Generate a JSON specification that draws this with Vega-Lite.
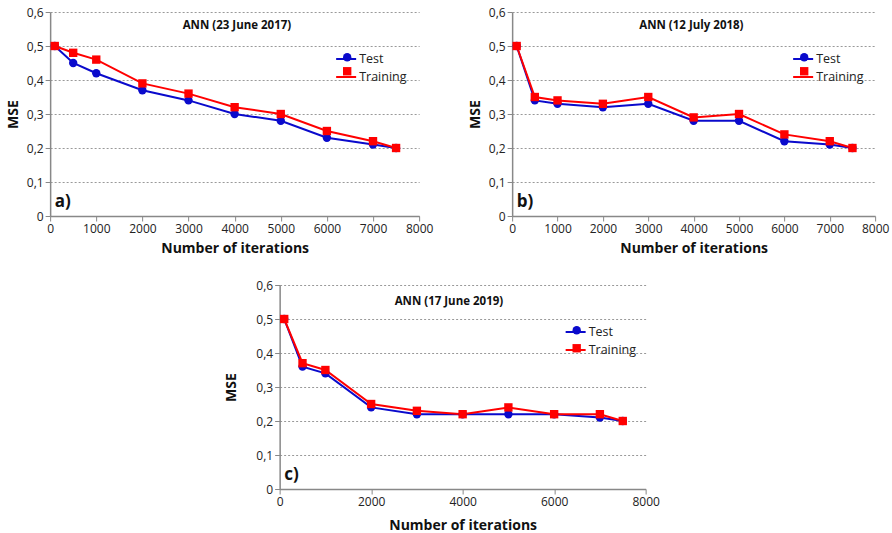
{
  "$schema": "https://vega.github.io/schema/vega-lite/v6.json",
  "padding": {"left": 6, "top": 6, "right": 2, "bottom": 2},
  "background": "white",
  "datasets": {
    "a": [
      {"iterations": 100, "mse": 0.50, "series": "Test", "curve": "Test"},
      {"iterations": 500, "mse": 0.45, "series": "Test", "curve": "Test"},
      {"iterations": 1000, "mse": 0.42, "series": "Test", "curve": "Test"},
      {"iterations": 2000, "mse": 0.37, "series": "Test", "curve": "Test"},
      {"iterations": 3000, "mse": 0.34, "series": "Test", "curve": "Test"},
      {"iterations": 4000, "mse": 0.30, "series": "Test", "curve": "Test"},
      {"iterations": 5000, "mse": 0.28, "series": "Test", "curve": "Test"},
      {"iterations": 6000, "mse": 0.23, "series": "Test", "curve": "Test"},
      {"iterations": 7000, "mse": 0.21, "series": "Test", "curve": "Test"},
      {"iterations": 7500, "mse": 0.20, "series": "Test", "curve": "Test"},
      {"iterations": 100, "mse": 0.50, "series": "Training", "curve": "Training"},
      {"iterations": 500, "mse": 0.48, "series": "Training", "curve": "Training"},
      {"iterations": 1000, "mse": 0.46, "series": "Training", "curve": "Training"},
      {"iterations": 2000, "mse": 0.39, "series": "Training", "curve": "Training"},
      {"iterations": 3000, "mse": 0.36, "series": "Training", "curve": "Training"},
      {"iterations": 4000, "mse": 0.32, "series": "Training", "curve": "Training"},
      {"iterations": 5000, "mse": 0.30, "series": "Training", "curve": "Training"},
      {"iterations": 6000, "mse": 0.25, "series": "Training", "curve": "Training"},
      {"iterations": 7000, "mse": 0.22, "series": "Training", "curve": "Training"},
      {"iterations": 7500, "mse": 0.20, "series": "Training", "curve": "Training"}
    ],
    "b": [
      {"iterations": 100, "mse": 0.50, "series": "Test", "curve": "Test"},
      {"iterations": 500, "mse": 0.34, "series": "Test", "curve": "Test"},
      {"iterations": 1000, "mse": 0.33, "series": "Test", "curve": "Test"},
      {"iterations": 2000, "mse": 0.32, "series": "Test", "curve": "Test"},
      {"iterations": 3000, "mse": 0.33, "series": "Test", "curve": "Test"},
      {"iterations": 4000, "mse": 0.28, "series": "Test", "curve": "Test"},
      {"iterations": 5000, "mse": 0.28, "series": "Test", "curve": "Test"},
      {"iterations": 6000, "mse": 0.22, "series": "Test", "curve": "Test"},
      {"iterations": 7000, "mse": 0.21, "series": "Test", "curve": "Test"},
      {"iterations": 7500, "mse": 0.20, "series": "Test", "curve": "Test"},
      {"iterations": 100, "mse": 0.50, "series": "Training", "curve": "Training"},
      {"iterations": 500, "mse": 0.35, "series": "Training", "curve": "Training"},
      {"iterations": 1000, "mse": 0.34, "series": "Training", "curve": "Training"},
      {"iterations": 2000, "mse": 0.33, "series": "Training", "curve": "Training"},
      {"iterations": 3000, "mse": 0.35, "series": "Training", "curve": "Training"},
      {"iterations": 4000, "mse": 0.29, "series": "Training", "curve": "Training"},
      {"iterations": 5000, "mse": 0.30, "series": "Training", "curve": "Training"},
      {"iterations": 6000, "mse": 0.24, "series": "Training", "curve": "Training"},
      {"iterations": 7000, "mse": 0.22, "series": "Training", "curve": "Training"},
      {"iterations": 7500, "mse": 0.20, "series": "Training", "curve": "Training"}
    ],
    "c": [
      {"iterations": 100, "mse": 0.50, "series": "Test", "curve": "Test"},
      {"iterations": 500, "mse": 0.36, "series": "Test", "curve": "Test"},
      {"iterations": 1000, "mse": 0.34, "series": "Test", "curve": "Test"},
      {"iterations": 2000, "mse": 0.24, "series": "Test", "curve": "Test"},
      {"iterations": 3000, "mse": 0.22, "series": "Test", "curve": "Test"},
      {"iterations": 4000, "mse": 0.22, "series": "Test", "curve": "Test"},
      {"iterations": 5000, "mse": 0.22, "series": "Test", "curve": "Test"},
      {"iterations": 6000, "mse": 0.22, "series": "Test", "curve": "Test"},
      {"iterations": 7000, "mse": 0.21, "series": "Test", "curve": "Test"},
      {"iterations": 7500, "mse": 0.20, "series": "Test", "curve": "Test"},
      {"iterations": 100, "mse": 0.50, "series": "Training", "curve": "Training"},
      {"iterations": 500, "mse": 0.37, "series": "Training", "curve": "Training"},
      {"iterations": 1000, "mse": 0.35, "series": "Training", "curve": "Training"},
      {"iterations": 2000, "mse": 0.25, "series": "Training", "curve": "Training"},
      {"iterations": 3000, "mse": 0.23, "series": "Training", "curve": "Training"},
      {"iterations": 4000, "mse": 0.22, "series": "Training", "curve": "Training"},
      {"iterations": 5000, "mse": 0.24, "series": "Training", "curve": "Training"},
      {"iterations": 6000, "mse": 0.22, "series": "Training", "curve": "Training"},
      {"iterations": 7000, "mse": 0.22, "series": "Training", "curve": "Training"},
      {"iterations": 7500, "mse": 0.20, "series": "Training", "curve": "Training"}
    ]
  },
  "config": {
    "view": {"stroke": null},
    "font": "Open Sans",
    "axis": {
      "labelFont": "Open Sans",
      "labelFontSize": 12,
      "labelColor": "#222",
      "labelOverlap": false,
      "labelFlush": false,
      "titleFont": "Open Sans",
      "titleFontSize": 14,
      "titleFontWeight": "bold",
      "titleColor": "#111",
      "domainColor": "#888",
      "domainWidth": 1.5,
      "tickColor": "#888",
      "tickSize": 5
    },
    "axisX": {"grid": false, "titlePadding": 7},
    "axisY": {"grid": true, "gridColor": "#999", "gridDash": [2, 2], "gridWidth": 1, "titlePadding": 6},
    "legend": {"labelFont": "Open Sans", "labelFontSize": 12.5, "labelColor": "#222", "title": null},
    "concat": {"spacing": 35}
  },
  "vconcat": [
    {
      "resolve": {"scale": {"stroke": "independent", "fill": "independent", "shape": "independent"}, "legend": {"stroke": "independent", "fill": "independent", "shape": "independent"}},
      "hconcat": [
        {
          "width": 369, "height": 204,
          "layer": [
            {"data": {"name": "a"}, "mark": {"type": "line", "strokeWidth": 2},
             "encoding": {
               "x": {"field": "iterations", "type": "quantitative", "scale": {"domain": [0, 8000], "nice": false}, "axis": {"values": [0,1000,2000,3000,4000,5000,6000,7000,8000], "format": "d", "title": "Number of iterations"}},
               "y": {"field": "mse", "type": "quantitative", "scale": {"domain": [0, 0.6]}, "axis": {"values": [0,0.1,0.2,0.3,0.4,0.5,0.6], "labelExpr": "datum.value == 0 ? '0' : replace(format(datum.value, '.1f'), '.', ',')", "title": "MSE"}},
               "stroke": {"field": "curve", "type": "nominal", "scale": {"range": ["#0a0acc", "#ff0000"]}, "legend": {"orient": "none", "legendX": 285, "legendY": 36, "symbolSize": 400, "symbolStrokeWidth": 2, "labelOffset": 2, "rowPadding": -4}}
             }},
            {"data": {"name": "a"}, "mark": {"type": "point", "filled": true, "opacity": 1, "size": 70},
             "encoding": {
               "x": {"field": "iterations", "type": "quantitative", "scale": {"domain": [0, 8000], "nice": false}, "axis": {"values": [0,1000,2000,3000,4000,5000,6000,7000,8000], "format": "d", "title": "Number of iterations"}},
               "y": {"field": "mse", "type": "quantitative", "scale": {"domain": [0, 0.6]}, "axis": {"values": [0,0.1,0.2,0.3,0.4,0.5,0.6], "labelExpr": "datum.value == 0 ? '0' : replace(format(datum.value, '.1f'), '.', ',')", "title": "MSE"}},
               "fill": {"field": "series", "type": "nominal", "scale": {"domain": ["Test", "Training"], "range": ["#0a0acc", "#ff0000"]}, "legend": {"orient": "none", "legendX": 290.8, "legendY": 39, "symbolSize": 70, "labelExpr": "''", "rowPadding": -1}},
               "shape": {"field": "series", "type": "nominal", "scale": {"domain": ["Test", "Training"], "range": ["circle", "square"]}, "legend": {"orient": "none", "legendX": 290.8, "legendY": 39, "symbolSize": 70, "labelExpr": "''", "rowPadding": -1}}
             }},
            {"data": {"values": [{}]}, "mark": {"type": "text", "fontWeight": "bold", "fontSize": 11.5, "font": "Open Sans", "color": "#111"},
             "encoding": {
               "x": {"datum": 4050, "type": "quantitative", "scale": {"domain": [0, 8000], "nice": false}, "axis": {"values": [0,1000,2000,3000,4000,5000,6000,7000,8000], "format": "d", "title": "Number of iterations"}},
               "y": {"datum": 0.56, "type": "quantitative", "scale": {"domain": [0, 0.6]}, "axis": {"values": [0,0.1,0.2,0.3,0.4,0.5,0.6], "labelExpr": "datum.value == 0 ? '0' : replace(format(datum.value, '.1f'), '.', ',')", "title": "MSE"}},
               "text": {"value": "ANN (23 June 2017)"}}},
            {"data": {"values": [{}]}, "mark": {"type": "text", "fontWeight": "bold", "fontSize": 17, "font": "Open Sans", "align": "left", "color": "#111"},
             "encoding": {
               "x": {"datum": 100, "type": "quantitative", "scale": {"domain": [0, 8000], "nice": false}, "axis": {"values": [0,1000,2000,3000,4000,5000,6000,7000,8000], "format": "d", "title": "Number of iterations"}},
               "y": {"datum": 0.04, "type": "quantitative", "scale": {"domain": [0, 0.6]}, "axis": {"values": [0,0.1,0.2,0.3,0.4,0.5,0.6], "labelExpr": "datum.value == 0 ? '0' : replace(format(datum.value, '.1f'), '.', ',')", "title": "MSE"}},
               "text": {"value": "a)"}}}
          ]
        },
        {
          "width": 363, "height": 204,
          "layer": [
            {"data": {"name": "b"}, "mark": {"type": "line", "strokeWidth": 2},
             "encoding": {
               "x": {"field": "iterations", "type": "quantitative", "scale": {"domain": [0, 8000], "nice": false}, "axis": {"values": [0,1000,2000,3000,4000,5000,6000,7000,8000], "format": "d", "title": "Number of iterations"}},
               "y": {"field": "mse", "type": "quantitative", "scale": {"domain": [0, 0.6]}, "axis": {"values": [0,0.1,0.2,0.3,0.4,0.5,0.6], "labelExpr": "datum.value == 0 ? '0' : replace(format(datum.value, '.1f'), '.', ',')", "title": "MSE"}},
               "stroke": {"field": "curve", "type": "nominal", "scale": {"range": ["#0a0acc", "#ff0000"]}, "legend": {"orient": "none", "legendX": 280, "legendY": 36, "symbolSize": 400, "symbolStrokeWidth": 2, "labelOffset": 2, "rowPadding": -4}}
             }},
            {"data": {"name": "b"}, "mark": {"type": "point", "filled": true, "opacity": 1, "size": 70},
             "encoding": {
               "x": {"field": "iterations", "type": "quantitative", "scale": {"domain": [0, 8000], "nice": false}, "axis": {"values": [0,1000,2000,3000,4000,5000,6000,7000,8000], "format": "d", "title": "Number of iterations"}},
               "y": {"field": "mse", "type": "quantitative", "scale": {"domain": [0, 0.6]}, "axis": {"values": [0,0.1,0.2,0.3,0.4,0.5,0.6], "labelExpr": "datum.value == 0 ? '0' : replace(format(datum.value, '.1f'), '.', ',')", "title": "MSE"}},
               "fill": {"field": "series", "type": "nominal", "scale": {"domain": ["Test", "Training"], "range": ["#0a0acc", "#ff0000"]}, "legend": {"orient": "none", "legendX": 285.8, "legendY": 39, "symbolSize": 70, "labelExpr": "''", "rowPadding": -1}},
               "shape": {"field": "series", "type": "nominal", "scale": {"domain": ["Test", "Training"], "range": ["circle", "square"]}, "legend": {"orient": "none", "legendX": 285.8, "legendY": 39, "symbolSize": 70, "labelExpr": "''", "rowPadding": -1}}
             }},
            {"data": {"values": [{}]}, "mark": {"type": "text", "fontWeight": "bold", "fontSize": 11.5, "font": "Open Sans", "color": "#111"},
             "encoding": {
               "x": {"datum": 3950, "type": "quantitative", "scale": {"domain": [0, 8000], "nice": false}, "axis": {"values": [0,1000,2000,3000,4000,5000,6000,7000,8000], "format": "d", "title": "Number of iterations"}},
               "y": {"datum": 0.56, "type": "quantitative", "scale": {"domain": [0, 0.6]}, "axis": {"values": [0,0.1,0.2,0.3,0.4,0.5,0.6], "labelExpr": "datum.value == 0 ? '0' : replace(format(datum.value, '.1f'), '.', ',')", "title": "MSE"}},
               "text": {"value": "ANN (12 July 2018)"}}},
            {"data": {"values": [{}]}, "mark": {"type": "text", "fontWeight": "bold", "fontSize": 17, "font": "Open Sans", "align": "left", "color": "#111"},
             "encoding": {
               "x": {"datum": 100, "type": "quantitative", "scale": {"domain": [0, 8000], "nice": false}, "axis": {"values": [0,1000,2000,3000,4000,5000,6000,7000,8000], "format": "d", "title": "Number of iterations"}},
               "y": {"datum": 0.04, "type": "quantitative", "scale": {"domain": [0, 0.6]}, "axis": {"values": [0,0.1,0.2,0.3,0.4,0.5,0.6], "labelExpr": "datum.value == 0 ? '0' : replace(format(datum.value, '.1f'), '.', ',')", "title": "MSE"}},
               "text": {"value": "b)"}}}
          ]
        }
      ]
    },
    {
      "width": 366, "height": 204,
      "layer": [
        {"data": {"name": "c"}, "mark": {"type": "line", "strokeWidth": 2},
         "encoding": {
           "x": {"field": "iterations", "type": "quantitative", "scale": {"domain": [0, 8000], "nice": false}, "axis": {"values": [0,2000,4000,6000,8000], "format": "d", "title": "Number of iterations", "titlePadding": 11}},
           "y": {"field": "mse", "type": "quantitative", "scale": {"domain": [0, 0.6]}, "axis": {"values": [0,0.1,0.2,0.3,0.4,0.5,0.6], "labelExpr": "datum.value == 0 ? '0' : replace(format(datum.value, '.1f'), '.', ',')", "title": "MSE", "titlePadding": 17}},
           "stroke": {"field": "curve", "type": "nominal", "scale": {"range": ["#0a0acc", "#ff0000"]}, "legend": {"orient": "none", "legendX": 285, "legendY": 36, "symbolSize": 400, "symbolStrokeWidth": 2, "labelOffset": 2, "rowPadding": 0}}
         }},
        {"data": {"name": "c"}, "mark": {"type": "point", "filled": true, "opacity": 1, "size": 70},
         "encoding": {
           "x": {"field": "iterations", "type": "quantitative", "scale": {"domain": [0, 8000], "nice": false}, "axis": {"values": [0,2000,4000,6000,8000], "format": "d", "title": "Number of iterations", "titlePadding": 11}},
           "y": {"field": "mse", "type": "quantitative", "scale": {"domain": [0, 0.6]}, "axis": {"values": [0,0.1,0.2,0.3,0.4,0.5,0.6], "labelExpr": "datum.value == 0 ? '0' : replace(format(datum.value, '.1f'), '.', ',')", "title": "MSE", "titlePadding": 17}},
           "fill": {"field": "series", "type": "nominal", "scale": {"domain": ["Test", "Training"], "range": ["#0a0acc", "#ff0000"]}, "legend": {"orient": "none", "legendX": 290.8, "legendY": 39, "symbolSize": 70, "labelExpr": "''", "rowPadding": 3}},
           "shape": {"field": "series", "type": "nominal", "scale": {"domain": ["Test", "Training"], "range": ["circle", "square"]}, "legend": {"orient": "none", "legendX": 290.8, "legendY": 39, "symbolSize": 70, "labelExpr": "''", "rowPadding": 3}}
         }},
        {"data": {"values": [{}]}, "mark": {"type": "text", "fontWeight": "bold", "fontSize": 11.5, "font": "Open Sans", "color": "#111"},
         "encoding": {
           "x": {"datum": 3700, "type": "quantitative", "scale": {"domain": [0, 8000], "nice": false}, "axis": {"values": [0,2000,4000,6000,8000], "format": "d", "title": "Number of iterations", "titlePadding": 11}},
           "y": {"datum": 0.55, "type": "quantitative", "scale": {"domain": [0, 0.6]}, "axis": {"values": [0,0.1,0.2,0.3,0.4,0.5,0.6], "labelExpr": "datum.value == 0 ? '0' : replace(format(datum.value, '.1f'), '.', ',')", "title": "MSE", "titlePadding": 17}},
           "text": {"value": "ANN (17 June 2019)"}}},
        {"data": {"values": [{}]}, "mark": {"type": "text", "fontWeight": "bold", "fontSize": 17, "font": "Open Sans", "align": "left", "color": "#111"},
         "encoding": {
           "x": {"datum": 100, "type": "quantitative", "scale": {"domain": [0, 8000], "nice": false}, "axis": {"values": [0,2000,4000,6000,8000], "format": "d", "title": "Number of iterations", "titlePadding": 11}},
           "y": {"datum": 0.04, "type": "quantitative", "scale": {"domain": [0, 0.6]}, "axis": {"values": [0,0.1,0.2,0.3,0.4,0.5,0.6], "labelExpr": "datum.value == 0 ? '0' : replace(format(datum.value, '.1f'), '.', ',')", "title": "MSE", "titlePadding": 17}},
           "text": {"value": "c)"}}}
      ]
    }
  ],
  "center": true,
  "spacing": 24,
  "resolve": {"scale": {"stroke": "independent", "fill": "independent", "shape": "independent"}, "legend": {"stroke": "independent", "fill": "independent", "shape": "independent"}}
}
